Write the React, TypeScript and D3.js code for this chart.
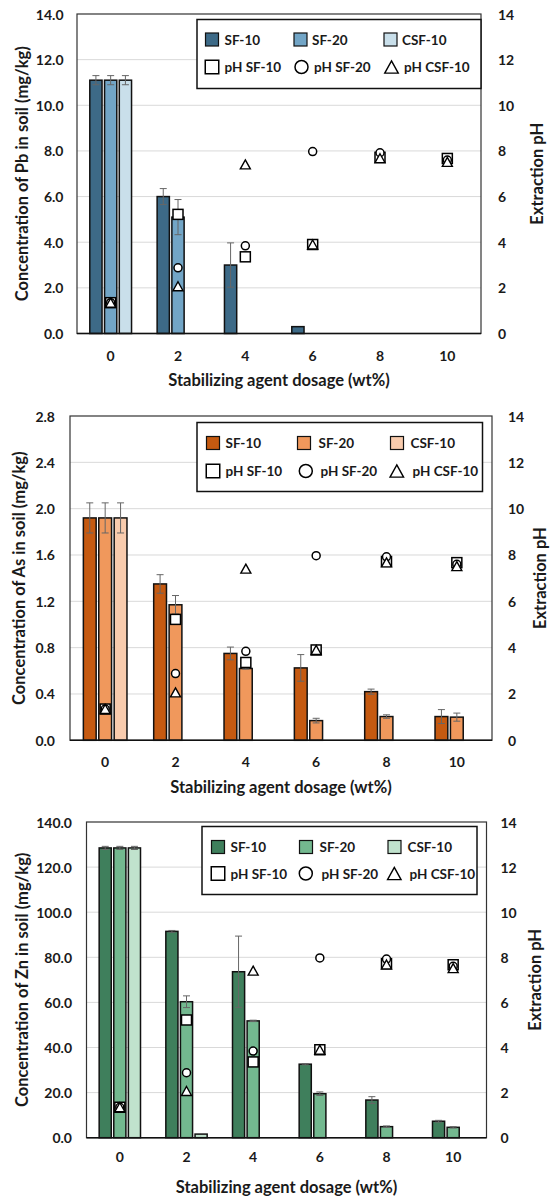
import React from "react";
import * as d3 from "d3";

// dosage categories (wt%)
const dosages = ["0", "2", "4", "6", "8", "10"];
const seriesNames = ["SF-10", "SF-20", "CSF-10"];
const phNames = ["pH SF-10", "pH SF-20", "pH CSF-10"];

// Pb concentration (mg/kg) and error
const pbSF10 = [11.1, 6.0, 3.0, 0.3, 0, 0];
const pbSF20 = [11.1, 5.1, 0, 0, 0, 0];
const pbCSF10 = [11.1, 0, 0, 0, 0, 0];
const pbErrSF10 = [0.2, 0.35, 0.97, 0, 0, 0];
const pbErrSF20 = [0.2, 0.77, 0, 0, 0, 0];
const pbErrCSF10 = [0.2, 0, 0, 0, 0, 0];

// As concentration (mg/kg) and error
const asSF10 = [1.92, 1.35, 0.75, 0.625, 0.42, 0.205];
const asSF20 = [1.92, 1.17, 0.62, 0.17, 0.205, 0.2];
const asCSF10 = [1.92, 0, 0, 0, 0, 0];
const asErrSF10 = [0.13, 0.08, 0.055, 0.115, 0.022, 0.06];
const asErrSF20 = [0.13, 0.08, 0.005, 0.02, 0.015, 0.035];
const asErrCSF10 = [0.13, 0, 0, 0, 0, 0];

// Zn concentration (mg/kg) and error
const znSF10 = [128.5, 91.5, 73.6, 32.6, 16.7, 7.3];
const znSF20 = [128.5, 60.3, 51.8, 19.5, 4.9, 4.6];
const znCSF10 = [128.5, 1.6, 0, 0, 0, 0];
const znErrSF10 = [0.7, 0.4, 15.8, 0.3, 1.5, 0.4];
const znErrSF20 = [0.7, 2.6, 0.3, 0.8, 0.3, 0.3];
const znErrCSF10 = [0.7, 0, 0, 0, 0, 0];

// extraction pH
const phSF10 = [1.35, 5.22, 3.36, 3.9, 7.72, 7.67];
const phSF20 = [1.35, 2.88, 3.84, 7.97, 7.92, 7.6];
const phCSF10 = [1.35, 2.07, 7.41, 3.9, 7.68, 7.52];

const phTicks = [0, 2, 4, 6, 8, 10, 12, 14];
const pbTicks = [0, 2, 4, 6, 8, 10, 12, 14];
const asTicks = [0, 0.4, 0.8, 1.2, 1.6, 2.0, 2.4, 2.8];
const znTicks = [0, 20, 40, 60, 80, 100, 120, 140];

const FONT = "Lato, 'Open Sans', sans-serif";
const TICK_FS = 14;
const TITLE_FS = 16.5;
const LEGEND_FS = 13.5;

type Layout = {
  left: number; right: number; top: number; bottom: number;
  tickY: number; titleY: number; leftLabelX: number; rightLabelX: number;
  leftTitleX: number; rightTitleX: number;
  legend: { x0: number; y0: number; x1: number; y1: number; rows: number[]; swatchX: number[]; textX: number[]; markerX: number[] };
};

type PanelProps = {
  metal: string;
  values: number[][];
  errors: number[][];
  ticks: number[];
  colors: string[];
  layout: Layout;
};

const Marker = ({ kind, x, y, s }: { kind: number; x: number; y: number; s: number }) => {
  if (kind === 0)
    return <rect x={x - s / 2} y={y - s / 2} width={s} height={s} fill="#fff" stroke="#000" strokeWidth={1.5} />;
  if (kind === 1) return <circle cx={x} cy={y} r={s / 2 - 0.5} fill="#fff" stroke="#000" strokeWidth={1.5} />;
  const h = s * 0.9;
  return (
    <path
      d={`M${x},${y - h / 2}L${x + s / 2},${y + h / 2}L${x - s / 2},${y + h / 2}Z`}
      fill="#fff" stroke="#000" strokeWidth={1.4} strokeLinejoin="miter"
    />
  );
};

const Panel = ({ metal, values, errors, ticks, colors, layout: L }: PanelProps) => {
  const x0 = d3.scaleBand().domain(dosages).range([L.left, L.right]).paddingInner(0.38).paddingOuter(0.19);
  const x1 = d3.scaleBand().domain(seriesNames).range([0, x0.bandwidth()]).paddingInner(0.17);
  const yMax = ticks[ticks.length - 1];
  const y = d3.scaleLinear().domain([0, yMax]).range([L.bottom, L.top]);
  const yPh = d3.scaleLinear().domain([0, 14]).range([L.bottom, L.top]);
  const fmt = d3.format(".1f");
  const phSeries = [phSF10, phSF20, phCSF10];
  const lg = L.legend;
  const midY = (L.top + L.bottom) / 2;

  return (
    <g fontFamily={FONT} fontWeight="bold" fill="#1a1a1a">
      {/* gridlines */}
      {ticks.slice(1, -1).map((t) => (
        <line key={t} x1={L.left} x2={L.right} y1={y(t)} y2={y(t)} stroke="#d9d9d9" strokeWidth={1} />
      ))}
      {/* bars */}
      {values.map((vals, si) =>
        vals.map((v, i) =>
          v > 0 ? (
            <rect
              key={`b${si}-${i}`}
              x={x0(dosages[i])! + x1(seriesNames[si])!}
              y={y(v)}
              width={x1.bandwidth()}
              height={y(0) - y(v)}
              fill={colors[si]}
              stroke="#111"
              strokeWidth={1.5}
            />
          ) : null
        )
      )}
      {/* error bars */}
      {errors.map((errs, si) =>
        errs.map((e, i) => {
          if (!(e > 0) || !(values[si][i] > 0)) return null;
          const cx = x0(dosages[i])! + x1(seriesNames[si])! + x1.bandwidth() / 2;
          const v = values[si][i];
          return (
            <g key={`e${si}-${i}`} stroke="#666" strokeWidth={1}>
              <line x1={cx} x2={cx} y1={y(v + e)} y2={y(v - e)} />
              <line x1={cx - 3.5} x2={cx + 3.5} y1={y(v + e)} y2={y(v + e)} />
              <line x1={cx - 3.5} x2={cx + 3.5} y1={y(v - e)} y2={y(v - e)} />
            </g>
          );
        })
      )}
      {/* plot frame */}
      <rect x={L.left} y={L.top} width={L.right - L.left} height={L.bottom - L.top} fill="none" stroke="#333" strokeWidth={1.2} />
      <line x1={L.left} x2={L.right} y1={L.bottom} y2={L.bottom} stroke="#111" strokeWidth={1.5} />
      {/* pH markers */}
      {phSeries.map((ph, si) =>
        ph.map((p, i) => (
          <Marker key={`m${si}-${i}`} kind={si} x={x0(dosages[i])! + x0.bandwidth() / 2} y={yPh(p)} s={si === 1 ? 9 : 10} />
        ))
      )}
      {/* left axis labels */}
      {ticks.map((t) => (
        <text key={`l${t}`} x={L.leftLabelX} y={y(t)} textAnchor="end" dominantBaseline="central" fontSize={TICK_FS}>
          {fmt(t)}
        </text>
      ))}
      {/* right axis labels */}
      {phTicks.map((t) => (
        <text key={`r${t}`} x={L.rightLabelX} y={yPh(t)} textAnchor="start" dominantBaseline="central" fontSize={TICK_FS}>
          {t}
        </text>
      ))}
      {/* x labels */}
      {dosages.map((d) => (
        <text key={`x${d}`} x={x0(d)! + x0.bandwidth() / 2} y={L.tickY} textAnchor="middle" dominantBaseline="central" fontSize={TICK_FS}>
          {d}
        </text>
      ))}
      <text x={(L.left + L.right) / 2} y={L.titleY} textAnchor="middle" dominantBaseline="central" fontSize={TITLE_FS}>
        Stabilizing agent dosage (wt%)
      </text>
      <text
        transform={`translate(${L.leftTitleX},${midY}) rotate(-90)`}
        textAnchor="middle" dominantBaseline="central" fontSize={TITLE_FS}
      >
        {`Concentration of ${metal} in soil (mg/kg)`}
      </text>
      <text
        transform={`translate(${L.rightTitleX},${midY}) rotate(-90)`}
        textAnchor="middle" dominantBaseline="central" fontSize={TITLE_FS}
      >
        Extraction pH
      </text>
      {/* legend */}
      <rect x={lg.x0} y={lg.y0} width={lg.x1 - lg.x0} height={lg.y1 - lg.y0} fill="#fff" stroke="#111" strokeWidth={1.5} />
      {seriesNames.map((s, i) => (
        <g key={`lg${s}`}>
          <rect x={lg.swatchX[i]} y={lg.rows[0] - 6.5} width={13} height={13} fill={colors[i]} stroke="#111" strokeWidth={1.2} />
          <text x={lg.textX[i]} y={lg.rows[0]} dominantBaseline="central" fontSize={LEGEND_FS}>{s}</text>
        </g>
      ))}
      {phNames.map((s, i) => (
        <g key={`lp${s}`}>
          <Marker kind={i} x={lg.markerX[i]} y={lg.rows[1]} s={i === 1 ? 14 : 13.5} />
          <text x={lg.textX[i] + (i === 0 ? 0 : 2)} y={lg.rows[1]} dominantBaseline="central" fontSize={LEGEND_FS}>{s}</text>
        </g>
      ))}
    </g>
  );
};

const pbLayout: Layout = {
  left: 77, right: 481, top: 14, bottom: 333.5, tickY: 355, titleY: 380,
  leftLabelX: 63.5, rightLabelX: 498, leftTitleX: 22, rightTitleX: 537,
  legend: { x0: 197, y0: 19.5, x1: 481, y1: 88.5, rows: [39.5, 67], swatchX: [205.5, 294, 384], textX: [224.5, 312, 402], markerX: [212, 301.5, 391.5] },
};
const asLayout: Layout = {
  left: 70, right: 492, top: 416, bottom: 740.3, tickY: 761.5, titleY: 787,
  leftLabelX: 55, rightLabelX: 508, leftTitleX: 19, rightTitleX: 539.5,
  legend: { x0: 197, y0: 422.5, x1: 482.5, y1: 491.5, rows: [443, 471], swatchX: [206.5, 297.5, 390.5], textX: [225.5, 318.5, 410.5], markerX: [213, 305.8, 396.8] },
};
const znLayout: Layout = {
  left: 86.5, right: 486.5, top: 822, bottom: 1137.7, tickY: 1156.7, titleY: 1186.5,
  leftLabelX: 72, rightLabelX: 500.5, leftTitleX: 22, rightTitleX: 534.5,
  legend: { x0: 202, y0: 826.5, x1: 477, y1: 894.5, rows: [847, 873.5], swatchX: [211.5, 299.5, 388], textX: [230.5, 319.5, 407.5], markerX: [218, 305.8, 394.3] },
};

export default function App() {
  return (
    <svg width={555} height={1196} style={{ position: "absolute", left: 0, top: 0, background: "#fff" }}>
      <Panel
        metal="Pb"
        values={[pbSF10, pbSF20, pbCSF10]}
        errors={[pbErrSF10, pbErrSF20, pbErrCSF10]}
        ticks={pbTicks}
        colors={["#3d6a87", "#72a5c6", "#c9dfea"]}
        layout={pbLayout}
      />
      <Panel
        metal="As"
        values={[asSF10, asSF20, asCSF10]}
        errors={[asErrSF10, asErrSF20, asErrCSF10]}
        ticks={asTicks}
        colors={["#c55a11", "#f0985c", "#f8cbad"]}
        layout={asLayout}
      />
      <Panel
        metal="Zn"
        values={[znSF10, znSF20, znCSF10]}
        errors={[znErrSF10, znErrSF20, znErrCSF10]}
        ticks={znTicks}
        colors={["#3f7f5c", "#73b88f", "#c0e2cd"]}
        layout={znLayout}
      />
    </svg>
  );
}
